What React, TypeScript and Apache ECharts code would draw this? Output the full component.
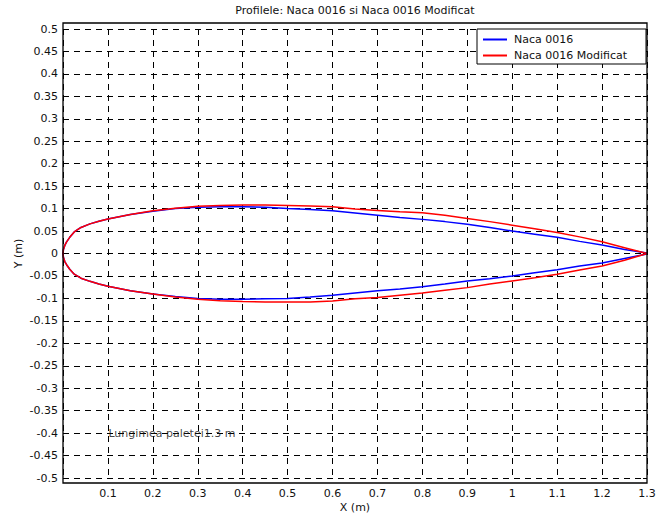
import React, { useEffect, useRef } from "react";
import * as echarts from "echarts";

const titleText = "Profilele: Naca 0016 si Naca 0016 Modificat";
const seriesNames = ["Naca 0016", "Naca 0016 Modificat"];
const annotationText = "Lungimea paletei1.3 m";
const annotationPoint = [0.1, -0.4];

const xStations = [0, 0.001, 0.004, 0.008, 0.015, 0.025, 0.04, 0.06, 0.08, 0.1, 0.15, 0.2, 0.25, 0.3, 0.35, 0.4, 0.45, 0.5, 0.55, 0.6, 0.65, 0.7, 0.75, 0.8, 0.85, 0.9, 0.95, 1.0, 1.05, 1.1, 1.15, 1.2, 1.25, 1.3];

const nacaUpper = [0, 0.009, 0.018, 0.026, 0.036, 0.048, 0.058, 0.066, 0.072, 0.077, 0.087, 0.094, 0.1, 0.103, 0.104, 0.104, 0.103, 0.1, 0.098, 0.095, 0.09, 0.085, 0.08, 0.076, 0.071, 0.065, 0.058, 0.05, 0.043, 0.036, 0.027, 0.019, 0.009, 0.001];
const nacaLower = [0, -0.009, -0.018, -0.025, -0.035, -0.046, -0.055, -0.062, -0.068, -0.073, -0.083, -0.09, -0.096, -0.1, -0.102, -0.102, -0.101, -0.1, -0.097, -0.093, -0.088, -0.083, -0.079, -0.074, -0.068, -0.061, -0.056, -0.05, -0.043, -0.036, -0.028, -0.021, -0.011, -0.001];

const modUpper = [0, 0.009, 0.018, 0.026, 0.036, 0.048, 0.058, 0.066, 0.072, 0.077, 0.087, 0.095, 0.101, 0.105, 0.107, 0.108, 0.108, 0.107, 0.106, 0.104, 0.099, 0.096, 0.093, 0.091, 0.085, 0.078, 0.071, 0.063, 0.055, 0.047, 0.037, 0.026, 0.013, 0];
const modLower = [0, -0.009, -0.018, -0.025, -0.035, -0.046, -0.055, -0.062, -0.068, -0.073, -0.083, -0.09, -0.097, -0.102, -0.105, -0.107, -0.108, -0.108, -0.108, -0.106, -0.101, -0.098, -0.093, -0.088, -0.082, -0.076, -0.068, -0.061, -0.054, -0.046, -0.037, -0.028, -0.015, 0];

const xMin = 0, xMax = 1.3, xStep = 0.1;
const yMin = -0.5, yMax = 0.5, yStep = 0.05;

function loop(upper: number[], lower: number[]) {
  const up = xStations.map((x, i) => [x, upper[i]]).reverse();
  const lo = xStations.map((x, i) => [x, lower[i]]).slice(1);
  return [...up, ...lo];
}

const FONT = "'DejaVu Sans', Verdana, sans-serif";
const FS = 11;

export default function App() {
  const ref = useRef<HTMLDivElement>(null);
  useEffect(() => {
    if (!ref.current) return;
    const chart = echarts.init(ref.current, undefined, { renderer: "svg" });
    const splitLine = { show: true, lineStyle: { color: "#000", type: [6, 5] as any, width: 1 } };
    chart.setOption({
      animation: false,
      backgroundColor: "#fff",
      grid: { left: 63, right: 17, top: 29, bottom: 39, containLabel: false, outerBoundsMode: "none" },
      xAxis: [{
        type: "value", min: xMin, max: xMax, interval: xStep,
        name: "X (m)", nameLocation: "middle", nameGap: 24, nameMoveOverlap: false,
        nameTextStyle: { fontFamily: FONT, fontSize: FS, color: "#111" },
        axisLine: { show: false },
        axisTick: { show: true, inside: true, length: 4, lineStyle: { color: "#000" } },
        axisLabel: { fontFamily: FONT, fontSize: FS, color: "#111", margin: 10,
          formatter: (v: number) => (Math.abs(v) < 1e-9 ? "" : String(+v.toFixed(2))) },
        splitLine,
      }],
      yAxis: [{
        type: "value", min: yMin, max: yMax, interval: yStep,
        name: "Y (m)", nameLocation: "middle", nameGap: 39, nameMoveOverlap: false,
        nameTextStyle: { fontFamily: FONT, fontSize: FS, color: "#111" },
        axisLine: { show: false },
        axisTick: { show: true, inside: true, length: 4, lineStyle: { color: "#000" } },
        axisLabel: { fontFamily: FONT, fontSize: FS, color: "#111", margin: 5,
          formatter: (v: number) => String(+v.toFixed(2)) },
        splitLine,
      }, {
        type: "value", min: yMin, max: yMax, interval: yStep, position: "right",
        axisLine: { show: false },
        axisTick: { show: true, inside: true, length: 4, lineStyle: { color: "#000" } },
        axisLabel: { show: false },
        splitLine: { show: false },
      }],
      legend: {
        orient: "vertical", left: 483, top: 34, padding: 0,
        itemWidth: 24, itemHeight: 2, itemGap: 5, icon: "rect",
        data: seriesNames,
        textStyle: { fontFamily: FONT, fontSize: FS, color: "#111", padding: [0, 0, 0, 2] },
        z: 6,
      },
      graphic: [
        { type: "text", x: 355, y: 10, z: 10,
          style: { text: titleText, font: `${FS}px ${FONT}`, fill: "#111", align: "center", verticalAlign: "middle" } },
        { type: "rect", z: 5, shape: { x: 63, y: 23, width: 584, height: 460 },
          style: { fill: "none", stroke: "#000", lineWidth: 1.3 } },
        { type: "rect", z: 5, shape: { x: 477, y: 29, width: 169, height: 35 },
          style: { fill: "#fff", stroke: "#000", lineWidth: 1 } },
      ],
      series: [
        { name: seriesNames[0], type: "line", data: loop(nacaUpper, nacaLower), showSymbol: false,
          lineStyle: { color: "#0000ff", width: 1.5 }, itemStyle: { color: "#0000ff" }, z: 3 },
        { name: seriesNames[1], type: "line", data: loop(modUpper, modLower), showSymbol: false,
          lineStyle: { color: "#ff0000", width: 1.5 }, itemStyle: { color: "#ff0000" }, z: 4 },
        { name: "annotation", type: "scatter", data: [annotationPoint], symbolSize: 1, silent: true,
          itemStyle: { color: "rgba(0,0,0,0)" }, z: 7,
          label: { show: true, position: "right", distance: 0, formatter: annotationText,
            fontFamily: FONT, fontSize: FS, color: "#111" } },
      ],
    });
    return () => chart.dispose();
  }, []);
  return <div ref={ref} style={{ position: "fixed", left: 0, top: 0, width: 664, height: 517, background: "#fff" }} />;
}
